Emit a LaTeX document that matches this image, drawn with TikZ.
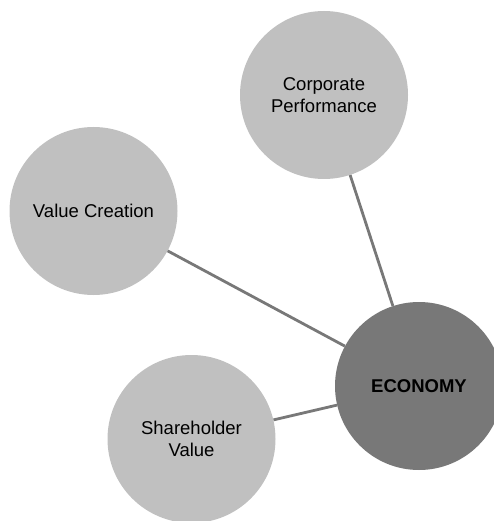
\documentclass[tikz,border=0pt]{standalone}
\usepackage{fontspec}
\setmainfont{Liberation Sans}
\usepackage{tikz}

\definecolor{bubblegray}{HTML}{C0C0C0}
\definecolor{coregray}{HTML}{787878}

\begin{document}
\begin{tikzpicture}[x=1pt, y=-1pt,
        bubble/.style={circle, fill=bubblegray, minimum size=168pt, inner sep=0pt, align=center, font=\fontsize{18.5}{21.5}\selectfont},
        core/.style={bubble, fill=coregray, font=\fontsize{18.5}{21.5}\selectfont\bfseries},
        link/.style={draw=coregray, line width=2.8pt}]
        \useasboundingbox (0, 0) rectangle (494, 521);

        \node[bubble] (corp) at (324, 95) {Corporate\\Performance};
        \node[bubble] (valcre) at (93.5, 211) {Value Creation};
        \node[bubble] (share) at (191.5, 439) {Shareholder\\Value};
        \node[core] (econ) at (419, 386) {ECONOMY};

        \draw[link] (corp) -- (econ);
        \draw[link] (valcre) -- (econ);
        \draw[link] (share) -- (econ);
\end{tikzpicture}
\end{document}
